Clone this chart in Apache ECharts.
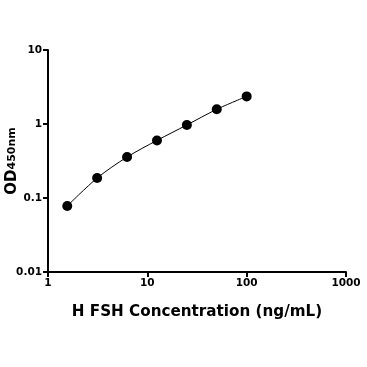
<!DOCTYPE html>
<html>
<head>
<meta charset="utf-8">
<script src="https://cdn.jsdelivr.net/npm/echarts@6/dist/echarts.min.js"></script>
<style>html,body{margin:0;padding:0;background:#fff}#c{width:367px;height:367px}</style>
</head>
<body>
<div id="c"></div>
<script>
const concentrations = [1.5625, 3.125, 6.25, 12.5, 25, 50, 100];
const odValues = [0.078, 0.186, 0.358, 0.60, 0.97, 1.58, 2.36];
const xTickLabels = ['1', '10', '100', '1000'];
const yTickLabels = ['0.01', '0.1', '1', '10'];

const chart = echarts.init(document.getElementById('c'), null, {renderer: 'canvas'});
const pts = concentrations.map((c, i) => [c, odValues[i]]);
const font = 'DejaVu Sans';
chart.setOption({
  animation: false,
  backgroundColor: '#fff',
  grid: {left: 48, top: 50, right: 21, bottom: 95, containLabel: false, outerBoundsMode: 'none'},
  xAxis: {
    type: 'log', logBase: 10, min: 1, max: 1000,
    name: 'H FSH Concentration (ng/mL)',
    nameLocation: 'middle', nameGap: 33, nameMoveOverlap: false,
    nameTextStyle: {fontFamily: font, fontWeight: 'bold', fontSize: 15.2, color: '#000'},
    axisLine: {show: true, onZero: false, lineStyle: {color: '#000', width: 2}},
    axisTick: {show: true, length: 5, lineStyle: {color: '#000', width: 2}},
    minorTick: {show: false},
    splitLine: {show: false},
    axisLabel: {fontFamily: font, fontWeight: 'bold', fontSize: 10.5, color: '#000', margin: 6,
      formatter: v => { const i = Math.round(Math.log10(v)); return xTickLabels[i] ?? ''; }}
  },
  yAxis: {
    type: 'log', logBase: 10, min: 0.01, max: 10,
    name: '{a|OD}{b|450nm}',
    nameLocation: 'middle', nameGap: 28, nameRotate: 90, nameMoveOverlap: false,
    nameTextStyle: {rich: {
      a: {fontFamily: font, fontWeight: 'bold', fontSize: 15, color: '#000'},
      b: {fontFamily: font, fontWeight: 'bold', fontSize: 11, color: '#000'}
    }},
    axisLine: {show: true, onZero: false, lineStyle: {color: '#000', width: 2}},
    axisTick: {show: true, length: 5, lineStyle: {color: '#000', width: 2}},
    minorTick: {show: false},
    splitLine: {show: false},
    axisLabel: {fontFamily: font, fontWeight: 'bold', fontSize: 10.5, color: '#000', margin: 6,
      formatter: v => { const i = Math.round(Math.log10(v)) + 2; return yTickLabels[i] ?? ''; }}
  },
  series: [{
    type: 'line', data: pts, smooth: 0.3,
    symbol: 'circle', symbolSize: 10,
    itemStyle: {color: '#000'},
    lineStyle: {color: '#000', width: 1}
  }]
});
</script>
</body>
</html>
